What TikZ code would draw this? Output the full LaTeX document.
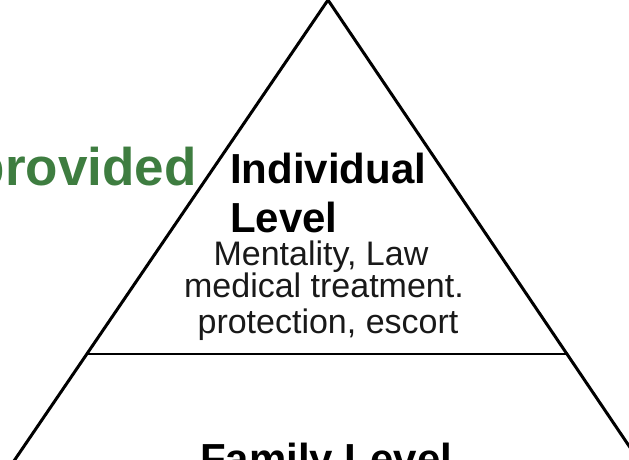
\documentclass[tikz,border=0pt]{standalone}
\usepackage{fontspec}
\setmainfont{Liberation Sans}
\definecolor{provgreen}{RGB}{62,125,64}
\begin{document}
\begin{tikzpicture}[x=1pt,y=-1pt,
  edge/.style={line width=3pt,black},
  title/.style={font=\fontsize{42}{48}\selectfont\bfseries,inner sep=0pt},
  body/.style={font=\fontsize{34}{40}\selectfont,inner sep=0pt,text=black!90},
  greentext/.style={font=\fontsize{53}{60}\selectfont\bfseries,inner sep=0pt,text=provgreen}]
\useasboundingbox (0,0) rectangle (629,460);
\clip (0,0) rectangle (629,460);
\fill[white] (0,0) rectangle (629,460);
% triangle
\coordinate (apex) at (328,0);
\coordinate (botL) at (1,480);
\coordinate (botR) at (652,480);
\coordinate (midL) at (86.6,354);
\coordinate (midR) at (567,354);
\draw[edge,line join=miter] (botL) -- (apex) -- (botR);
\draw[line width=2.6pt] (midL) -- (midR);
% texts
\node[greentext,anchor=base east] (prov) at (197,185) {provided};
\node[title,anchor=base west] (ind) at (230,183) {Individual};
\node[title,anchor=base west] (lev) at (230,232) {Level};
\node[body,anchor=base] (l1) at (321,265) {Mentality, Law};
\node[body,anchor=base] (l2) at (324,297) {medical treatment.};
\node[body,anchor=base] (l3) at (328,333) {protection, escort};
\node[title,anchor=base west] (fam) at (200,473) {Family Level};
\end{tikzpicture}
\end{document}
